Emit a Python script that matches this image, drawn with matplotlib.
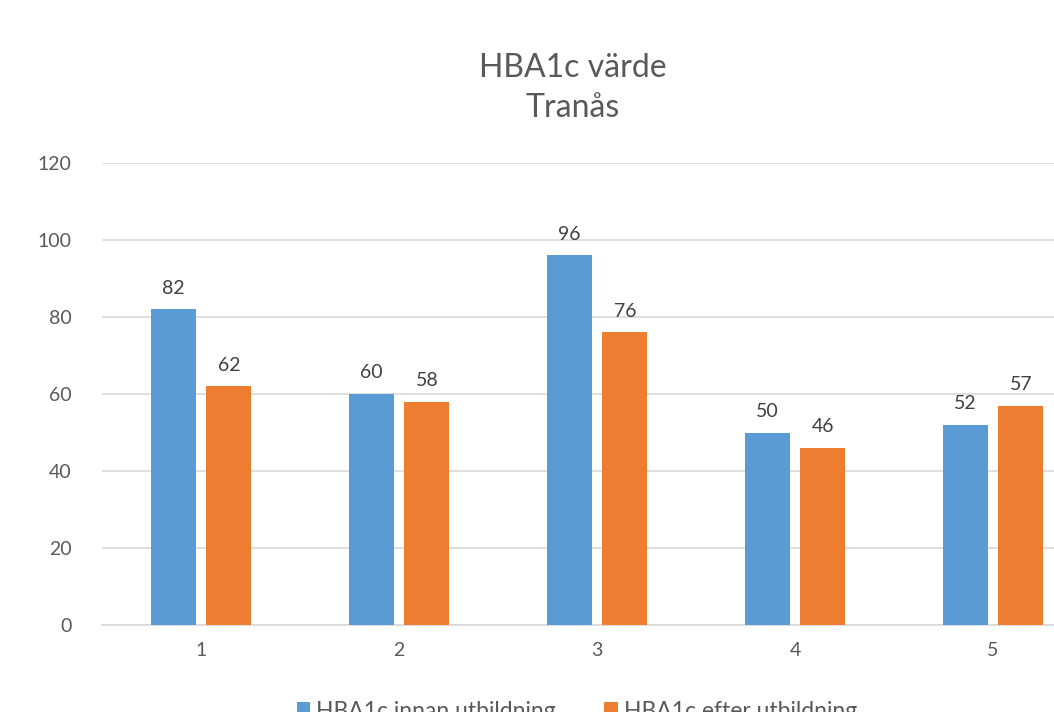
import matplotlib.pyplot as plt
import numpy as np

# Data
kategorier = ['1', '2', '3', '4', '5']
innan = [82, 60, 96, 50, 52]
efter = [62, 58, 76, 46, 57]
serie_namn = ['HBA1c innan utbildning', 'HBA1c efter utbildning']
titel = 'HBA1c värde\nTranås'

plt.rcParams['font.family'] = ['Lato', 'DejaVu Sans']
textfarg = '#595959'

fig = plt.figure(figsize=(10.54, 7.12), dpi=100)
ax = fig.add_axes([102 / 1054, 1 - 625 / 712, 990 / 1054, 462 / 712])

x = np.arange(1, len(kategorier) + 1)
bredd = 0.227
b1 = ax.bar(x - 0.141, innan, bredd, color='#5b9bd5', label=serie_namn[0], zorder=3)
b2 = ax.bar(x + 0.141, efter, bredd, color='#ed7d31', label=serie_namn[1], zorder=3)

for bars in (b1, b2):
    for rect in bars:
        h = rect.get_height()
        ax.annotate(f'{h:.0f}', (rect.get_x() + rect.get_width() / 2, h),
                    xytext=(0, 9), textcoords='offset points',
                    ha='center', va='bottom', fontsize=14, color='#404040')

ax.set_xlim(0.5, 5.5)
ax.set_ylim(0, 120)
ax.set_yticks(range(0, 121, 20))
ax.set_xticks(x)
ax.set_xticklabels(kategorier)
ax.grid(axis='y', color='#d9d9d9', linewidth=1.2, zorder=0)
for s in ['top', 'right', 'left']:
    ax.spines[s].set_visible(False)
ax.spines['bottom'].set_color('#d9d9d9')
ax.spines['bottom'].set_linewidth(1.2)
ax.tick_params(axis='both', length=0, labelsize=14, colors=textfarg)
ax.tick_params(axis='x', pad=12)
ax.tick_params(axis='y', pad=22)

fig.text(573 / 1054, 1 - 88 / 712, titel, ha='center', va='center',
         fontsize=23, color=textfarg, linespacing=1.45)

fig.legend(loc='center', bbox_to_anchor=(577 / 1054, 1 - 711 / 712), ncol=2,
           frameon=False, fontsize=16.5, handlelength=0.6, handleheight=0.6,
           handletextpad=0.26, columnspacing=2.1, labelcolor=textfarg)

fig.savefig('out.png', dpi=100)
